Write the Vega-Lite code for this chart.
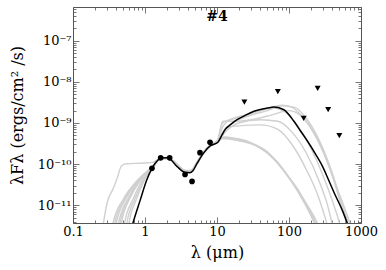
{
  "$schema": "https://vega.github.io/schema/vega-lite/v6.json",
  "width": 288,
  "height": 216,
  "autosize": {"type": "none"},
  "padding": {"left": 73, "top": 7, "right": 25, "bottom": 47},
  "background": "white",
  "view": {"stroke": null},
  "config": {
    "font": "DejaVu Serif",
    "axis": {
      "labelFont": "DejaVu Serif",
      "titleFont": "DejaVu Serif",
      "labelFontSize": 13,
      "titleFontSize": 16,
      "titleFontWeight": "normal",
      "labelColor": "#000",
      "titleColor": "#000",
      "domainColor": "#555",
      "domainWidth": 1,
      "tickColor": "#777",
      "tickWidth": 1,
      "grid": false
    }
  },
  "datasets": {
    "models": [
      {"s":"g1","l":0.24,"f":1e-12},{"s":"g1","l":0.265,"f":3.7e-12},{"s":"g1","l":0.3,"f":1.2e-11},{"s":"g1","l":0.36,"f":2.5e-11},{"s":"g1","l":0.41,"f":4.5e-11},{"s":"g1","l":0.47,"f":9e-11},{"s":"g1","l":0.55,"f":1.02e-10},{"s":"g1","l":1.0,"f":1.06e-10},{"s":"g1","l":1.3,"f":1.12e-10},{"s":"g1","l":1.6,"f":1.35e-10},{"s":"g1","l":2.0,"f":1.4e-10},{"s":"g1","l":2.5,"f":1.15e-10},{"s":"g1","l":3.0,"f":8e-11},{"s":"g1","l":3.7,"f":6.8e-11},{"s":"g1","l":4.4,"f":7e-11},{"s":"g1","l":5.3,"f":1.15e-10},{"s":"g1","l":6.5,"f":2e-10},{"s":"g1","l":8,"f":2.9e-10},{"s":"g1","l":10,"f":3.6e-10},{"s":"g1","l":12,"f":4.3e-10},{"s":"g1","l":18,"f":4.2e-10},{"s":"g1","l":30,"f":3.3e-10},{"s":"g1","l":50,"f":2e-10},{"s":"g1","l":80,"f":8e-11},{"s":"g1","l":120,"f":3e-11},{"s":"g1","l":180,"f":1e-11},{"s":"g1","l":250,"f":3.5e-12},{"s":"g1","l":280,"f":2e-12},
      {"s":"g2","l":0.33,"f":1e-12},{"s":"g2","l":0.36,"f":3.7e-12},{"s":"g2","l":0.5,"f":1.4e-11},{"s":"g2","l":0.7,"f":3.2e-11},{"s":"g2","l":0.95,"f":5.5e-11},{"s":"g2","l":1.25,"f":8.5e-11},{"s":"g2","l":1.6,"f":1.3e-10},{"s":"g2","l":2.0,"f":1.38e-10},{"s":"g2","l":2.5,"f":1.2e-10},{"s":"g2","l":3.0,"f":8.8e-11},{"s":"g2","l":3.6,"f":7e-11},{"s":"g2","l":4.3,"f":6.8e-11},{"s":"g2","l":5.3,"f":1.1e-10},{"s":"g2","l":6.5,"f":1.9e-10},{"s":"g2","l":8,"f":2.7e-10},{"s":"g2","l":10,"f":3.4e-10},{"s":"g2","l":12,"f":4.2e-10},{"s":"g2","l":20,"f":3.7e-10},{"s":"g2","l":35,"f":2.8e-10},{"s":"g2","l":60,"f":1.4e-10},{"s":"g2","l":100,"f":4.6e-11},{"s":"g2","l":160,"f":1.3e-11},{"s":"g2","l":240,"f":3.5e-12},{"s":"g2","l":270,"f":2e-12},
      {"s":"g3","l":0.37,"f":1e-12},{"s":"g3","l":0.4,"f":3.7e-12},{"s":"g3","l":0.55,"f":1.5e-11},{"s":"g3","l":0.75,"f":3.5e-11},{"s":"g3","l":1.0,"f":6e-11},{"s":"g3","l":1.25,"f":8.5e-11},{"s":"g3","l":1.6,"f":1.35e-10},{"s":"g3","l":2.0,"f":1.42e-10},{"s":"g3","l":2.5,"f":1.18e-10},{"s":"g3","l":3.0,"f":8.5e-11},{"s":"g3","l":3.6,"f":6.5e-11},{"s":"g3","l":4.3,"f":6.5e-11},{"s":"g3","l":5.3,"f":1.05e-10},{"s":"g3","l":6.5,"f":1.85e-10},{"s":"g3","l":8,"f":2.8e-10},{"s":"g3","l":10,"f":3.5e-10},{"s":"g3","l":12,"f":4.5e-10},{"s":"g3","l":20,"f":3.8e-10},{"s":"g3","l":40,"f":2.5e-10},{"s":"g3","l":70,"f":1.1e-10},{"s":"g3","l":110,"f":3.7e-11},{"s":"g3","l":170,"f":1e-11},{"s":"g3","l":240,"f":3e-12},
      {"s":"g10","l":0.4,"f":1e-12},{"s":"g10","l":0.43,"f":3.7e-12},{"s":"g10","l":0.6,"f":1.6e-11},{"s":"g10","l":0.8,"f":3.8e-11},{"s":"g10","l":1.05,"f":6.5e-11},{"s":"g10","l":1.25,"f":8.5e-11},{"s":"g10","l":1.6,"f":1.38e-10},{"s":"g10","l":2.0,"f":1.45e-10},{"s":"g10","l":2.5,"f":1.2e-10},{"s":"g10","l":3.0,"f":8.8e-11},{"s":"g10","l":3.6,"f":7e-11},{"s":"g10","l":4.3,"f":7e-11},{"s":"g10","l":5.3,"f":1.12e-10},{"s":"g10","l":6.5,"f":1.95e-10},{"s":"g10","l":8,"f":2.9e-10},{"s":"g10","l":10,"f":3.6e-10},{"s":"g10","l":13,"f":4.6e-10},{"s":"g10","l":20,"f":4e-10},{"s":"g10","l":32,"f":3e-10},{"s":"g10","l":55,"f":1.6e-10},{"s":"g10","l":90,"f":6e-11},{"s":"g10","l":150,"f":1.7e-11},{"s":"g10","l":220,"f":4e-12},{"s":"g10","l":250,"f":2e-12},
      {"s":"g4","l":0.44,"f":1e-12},{"s":"g4","l":0.47,"f":3.7e-12},{"s":"g4","l":0.62,"f":1.5e-11},{"s":"g4","l":0.85,"f":3.8e-11},{"s":"g4","l":1.05,"f":6e-11},{"s":"g4","l":1.25,"f":8e-11},{"s":"g4","l":1.6,"f":1.35e-10},{"s":"g4","l":2.0,"f":1.4e-10},{"s":"g4","l":2.5,"f":1.15e-10},{"s":"g4","l":3.0,"f":8.2e-11},{"s":"g4","l":3.6,"f":6.4e-11},{"s":"g4","l":4.3,"f":6.4e-11},{"s":"g4","l":5.3,"f":1.05e-10},{"s":"g4","l":6.5,"f":1.85e-10},{"s":"g4","l":8,"f":2.7e-10},{"s":"g4","l":10,"f":3.4e-10},{"s":"g4","l":12,"f":6e-10},{"s":"g4","l":14,"f":8e-10},{"s":"g4","l":20,"f":8.5e-10},{"s":"g4","l":40,"f":9e-10},{"s":"g4","l":70,"f":7e-10},{"s":"g4","l":110,"f":3e-10},{"s":"g4","l":170,"f":8e-11},{"s":"g4","l":250,"f":1.8e-11},{"s":"g4","l":330,"f":4e-12},{"s":"g4","l":370,"f":2e-12},
      {"s":"g5","l":0.49,"f":1e-12},{"s":"g5","l":0.52,"f":3.7e-12},{"s":"g5","l":0.68,"f":1.4e-11},{"s":"g5","l":0.9,"f":3.8e-11},{"s":"g5","l":1.1,"f":6.2e-11},{"s":"g5","l":1.25,"f":7.8e-11},{"s":"g5","l":1.6,"f":1.33e-10},{"s":"g5","l":2.0,"f":1.38e-10},{"s":"g5","l":2.5,"f":1.12e-10},{"s":"g5","l":3.0,"f":8e-11},{"s":"g5","l":3.6,"f":6.2e-11},{"s":"g5","l":4.3,"f":6.3e-11},{"s":"g5","l":5.3,"f":1.0e-10},{"s":"g5","l":6.5,"f":1.8e-10},{"s":"g5","l":8,"f":2.7e-10},{"s":"g5","l":10,"f":3.6e-10},{"s":"g5","l":12,"f":8e-10},{"s":"g5","l":14,"f":1.1e-9},{"s":"g5","l":18,"f":1.3e-9},{"s":"g5","l":30,"f":1.7e-9},{"s":"g5","l":50,"f":2.2e-9},{"s":"g5","l":80,"f":2.7e-9},{"s":"g5","l":110,"f":2.4e-9},{"s":"g5","l":160,"f":1.3e-9},{"s":"g5","l":230,"f":5e-10},{"s":"g5","l":330,"f":1.3e-10},{"s":"g5","l":450,"f":3e-11},{"s":"g5","l":600,"f":8e-12},{"s":"g5","l":720,"f":3e-12},{"s":"g5","l":780,"f":1.5e-12},
      {"s":"g6","l":0.53,"f":1e-12},{"s":"g6","l":0.56,"f":3.7e-12},{"s":"g6","l":0.72,"f":1.4e-11},{"s":"g6","l":0.92,"f":3.6e-11},{"s":"g6","l":1.1,"f":6e-11},{"s":"g6","l":1.25,"f":7.6e-11},{"s":"g6","l":1.6,"f":1.3e-10},{"s":"g6","l":2.0,"f":1.35e-10},{"s":"g6","l":2.5,"f":1.12e-10},{"s":"g6","l":3.0,"f":8.3e-11},{"s":"g6","l":3.6,"f":6.8e-11},{"s":"g6","l":4.3,"f":6.9e-11},{"s":"g6","l":5.3,"f":1.1e-10},{"s":"g6","l":6.5,"f":1.9e-10},{"s":"g6","l":8,"f":2.8e-10},{"s":"g6","l":10,"f":3.5e-10},{"s":"g6","l":12,"f":1.0e-9},{"s":"g6","l":15,"f":1.2e-9},{"s":"g6","l":25,"f":1.6e-9},{"s":"g6","l":40,"f":2.1e-9},{"s":"g6","l":60,"f":2.3e-9},{"s":"g6","l":90,"f":1.8e-9},{"s":"g6","l":130,"f":9e-10},{"s":"g6","l":200,"f":2.5e-10},{"s":"g6","l":300,"f":5e-11},{"s":"g6","l":420,"f":1e-11},{"s":"g6","l":500,"f":3.7e-12},{"s":"g6","l":540,"f":2e-12},
      {"s":"g7","l":0.57,"f":1e-12},{"s":"g7","l":0.6,"f":3.7e-12},{"s":"g7","l":0.76,"f":1.4e-11},{"s":"g7","l":0.95,"f":3.6e-11},{"s":"g7","l":1.1,"f":5.8e-11},{"s":"g7","l":1.25,"f":7.5e-11},{"s":"g7","l":1.6,"f":1.3e-10},{"s":"g7","l":2.0,"f":1.36e-10},{"s":"g7","l":2.5,"f":1.15e-10},{"s":"g7","l":3.0,"f":8.6e-11},{"s":"g7","l":3.6,"f":6.7e-11},{"s":"g7","l":4.3,"f":6.6e-11},{"s":"g7","l":5.3,"f":1.08e-10},{"s":"g7","l":6.5,"f":1.88e-10},{"s":"g7","l":8,"f":2.75e-10},{"s":"g7","l":10,"f":3.3e-10},{"s":"g7","l":13,"f":6e-10},{"s":"g7","l":20,"f":1e-9},{"s":"g7","l":40,"f":1.2e-9},{"s":"g7","l":70,"f":1.1e-9},{"s":"g7","l":110,"f":6e-10},{"s":"g7","l":170,"f":2e-10},{"s":"g7","l":260,"f":4e-11},{"s":"g7","l":380,"f":5e-12},{"s":"g7","l":420,"f":2e-12},
      {"s":"g8","l":0.35,"f":1e-12},{"s":"g8","l":0.38,"f":3.7e-12},{"s":"g8","l":0.52,"f":1.4e-11},{"s":"g8","l":0.72,"f":3.4e-11},{"s":"g8","l":0.98,"f":5.8e-11},{"s":"g8","l":1.25,"f":8.2e-11},{"s":"g8","l":1.6,"f":1.36e-10},{"s":"g8","l":2.0,"f":1.42e-10},{"s":"g8","l":2.5,"f":1.18e-10},{"s":"g8","l":3.0,"f":8.4e-11},{"s":"g8","l":3.6,"f":6.5e-11},{"s":"g8","l":4.3,"f":6.7e-11},{"s":"g8","l":5.3,"f":1.1e-10},{"s":"g8","l":6.5,"f":1.9e-10},{"s":"g8","l":8,"f":2.8e-10},{"s":"g8","l":10,"f":3.4e-10},{"s":"g8","l":12,"f":1.1e-9},{"s":"g8","l":16,"f":1.1e-9},{"s":"g8","l":30,"f":1.2e-9},{"s":"g8","l":60,"f":1.6e-9},{"s":"g8","l":100,"f":2e-9},{"s":"g8","l":140,"f":1.6e-9},{"s":"g8","l":200,"f":8e-10},{"s":"g8","l":300,"f":2e-10},{"s":"g8","l":420,"f":4e-11},{"s":"g8","l":560,"f":7e-12},{"s":"g8","l":650,"f":3e-12},{"s":"g8","l":700,"f":1.5e-12},
      {"s":"g9","l":0.42,"f":1e-12},{"s":"g9","l":0.45,"f":3.7e-12},{"s":"g9","l":0.6,"f":1.5e-11},{"s":"g9","l":0.8,"f":3.6e-11},{"s":"g9","l":1.02,"f":6e-11},{"s":"g9","l":1.25,"f":8e-11},{"s":"g9","l":1.6,"f":1.34e-10},{"s":"g9","l":2.0,"f":1.4e-10},{"s":"g9","l":2.5,"f":1.16e-10},{"s":"g9","l":3.0,"f":8.3e-11},{"s":"g9","l":3.6,"f":6.6e-11},{"s":"g9","l":4.3,"f":6.6e-11},{"s":"g9","l":5.3,"f":1.07e-10},{"s":"g9","l":6.5,"f":1.9e-10},{"s":"g9","l":8,"f":2.8e-10},{"s":"g9","l":10,"f":3.6e-10},{"s":"g9","l":14,"f":8e-10},{"s":"g9","l":25,"f":1.4e-9},{"s":"g9","l":50,"f":2e-9},{"s":"g9","l":80,"f":2.6e-9},{"s":"g9","l":120,"f":2.4e-9},{"s":"g9","l":180,"f":1.2e-9},{"s":"g9","l":280,"f":3e-10},{"s":"g9","l":400,"f":6e-11},{"s":"g9","l":550,"f":1e-11},{"s":"g9","l":680,"f":3e-12},{"s":"g9","l":730,"f":1.5e-12}
    ],
    "best": [
      {"l":0.55,"f":1e-12},{"l":0.68,"f":3.7e-12},{"l":0.86,"f":1.35e-11},{"l":1.05,"f":4e-11},{"l":1.25,"f":7.9e-11},{"l":1.45,"f":1.15e-10},{"l":1.67,"f":1.4e-10},{"l":2.0,"f":1.42e-10},{"l":2.25,"f":1.3e-10},{"l":2.8,"f":8.7e-11},{"l":3.6,"f":6.3e-11},{"l":4.2,"f":6.2e-11},{"l":4.6,"f":6.8e-11},{"l":5.3,"f":1.05e-10},{"l":6.5,"f":1.85e-10},{"l":8.1,"f":2.8e-10},{"l":10.3,"f":3.4e-10},{"l":11.5,"f":4.8e-10},{"l":13,"f":7e-10},{"l":15.4,"f":9.1e-10},{"l":19,"f":1.2e-9},{"l":25,"f":1.55e-9},{"l":32,"f":1.9e-9},{"l":50,"f":2.3e-9},{"l":62,"f":2.45e-9},{"l":85,"f":2.1e-9},{"l":117,"f":1.1e-9},{"l":146,"f":6.2e-10},{"l":181,"f":3.6e-10},{"l":236,"f":1.7e-10},{"l":292,"f":8.8e-11},{"l":351,"f":4.3e-11},{"l":430,"f":1.9e-11},{"l":560,"f":7e-12},{"l":650,"f":3.5e-12},{"l":720,"f":2e-12}
    ],
    "phot": [
      {"l":1.25,"f":7.9e-11},{"l":1.65,"f":1.42e-10},{"l":2.2,"f":1.42e-10},{"l":3.6,"f":5.6e-11},{"l":4.5,"f":3.8e-11},{"l":5.8,"f":1.9e-10},{"l":8.0,"f":3.4e-10}
    ],
    "limits": [
      {"l":24,"f":3.2e-9},{"l":70,"f":5.8e-9},{"l":160,"f":1.3e-9},{"l":250,"f":6.9e-9},{"l":350,"f":2.1e-9},{"l":500,"f":4.9e-10}
    ],
    "label": [{"l":10,"f":3.8e-7,"t":"#4"}]
  },
  "resolve": {"axis": {"x": "independent", "y": "independent"}},
  "layer": [
    {
      "data": {"name": "models"},
      "mark": {"type": "line", "clip": true, "color": "#d0d0d0", "strokeWidth": 1.4, "interpolate": "monotone"},
      "encoding": {
        "detail": {"field": "s", "type": "nominal"},
        "x": {"field": "l", "type": "quantitative",
          "scale": {"type": "log", "domain": [0.1, 1000]},
          "axis": {"orient": "bottom", "title": "λ (μm)",
            "values": [0.1,0.2,0.3,0.4,0.5,0.6,0.7,0.8,0.9,1,2,3,4,5,6,7,8,9,10,20,30,40,50,60,70,80,90,100,200,300,400,500,600,700,800,900,1000],
            "labelExpr": "abs(log(datum.value)/LN10 - round(log(datum.value)/LN10)) < 0.001 ? '' + datum.value : ''",
            "tickSize": {"condition": {"test": "abs(log(datum.value)/LN10 - round(log(datum.value)/LN10)) < 0.001", "value": -6}, "value": -3},
            "labelPadding": 8, "labelFlush": false, "labelOverlap": false,
            "titleY": 29, "titleBaseline": "middle"}},
        "y": {"field": "f", "type": "quantitative",
          "scale": {"type": "log", "domain": [3.7e-12, 6.6e-7]},
          "axis": {"orient": "left", "title": "λFλ (ergs/cm² /s)",
            "values": [4e-12,5e-12,6e-12,7e-12,8e-12,9e-12,1e-11,2e-11,3e-11,4e-11,5e-11,6e-11,7e-11,8e-11,9e-11,1e-10,2e-10,3e-10,4e-10,5e-10,6e-10,7e-10,8e-10,9e-10,1e-9,2e-9,3e-9,4e-9,5e-9,6e-9,7e-9,8e-9,9e-9,1e-8,2e-8,3e-8,4e-8,5e-8,6e-8,7e-8,8e-8,9e-8,1e-7,2e-7,3e-7,4e-7,5e-7,6e-7],
            "labelExpr": "abs(log(datum.value)/LN10 - round(log(datum.value)/LN10)) > 0.001 ? '' : datum.value < 2e-11 ? '10⁻¹¹' : datum.value < 2e-10 ? '10⁻¹⁰' : datum.value < 2e-9 ? '10⁻⁹' : datum.value < 2e-8 ? '10⁻⁸' : '10⁻⁷'",
            "tickSize": {"condition": {"test": "abs(log(datum.value)/LN10 - round(log(datum.value)/LN10)) < 0.001", "value": -6}, "value": -3},
            "labelPadding": 8, "labelFlush": false, "labelOverlap": false,
            "titleX": -56, "titleY": 108, "titleAngle": -90, "titleAlign": "center", "titleBaseline": "middle"}}
      }
    },
    {
      "data": {"name": "best"},
      "mark": {"type": "line", "clip": true, "color": "#000", "strokeWidth": 1.5, "interpolate": "monotone"},
      "encoding": {
        "x": {"field": "l", "type": "quantitative",
          "scale": {"type": "log", "domain": [0.1, 1000]},
          "axis": {"orient": "top", "title": null, "labels": false,
            "values": [0.1,0.2,0.3,0.4,0.5,0.6,0.7,0.8,0.9,1,2,3,4,5,6,7,8,9,10,20,30,40,50,60,70,80,90,100,200,300,400,500,600,700,800,900,1000],
            "tickSize": {"condition": {"test": "abs(log(datum.value)/LN10 - round(log(datum.value)/LN10)) < 0.001", "value": -6}, "value": -3}}},
        "y": {"field": "f", "type": "quantitative",
          "scale": {"type": "log", "domain": [3.7e-12, 6.6e-7]},
          "axis": {"orient": "right", "title": null, "labels": false,
            "values": [4e-12,5e-12,6e-12,7e-12,8e-12,9e-12,1e-11,2e-11,3e-11,4e-11,5e-11,6e-11,7e-11,8e-11,9e-11,1e-10,2e-10,3e-10,4e-10,5e-10,6e-10,7e-10,8e-10,9e-10,1e-9,2e-9,3e-9,4e-9,5e-9,6e-9,7e-9,8e-9,9e-9,1e-8,2e-8,3e-8,4e-8,5e-8,6e-8,7e-8,8e-8,9e-8,1e-7,2e-7,3e-7,4e-7,5e-7,6e-7],
            "tickSize": {"condition": {"test": "abs(log(datum.value)/LN10 - round(log(datum.value)/LN10)) < 0.001", "value": -6}, "value": -3}}}
      }
    },
    {
      "data": {"name": "phot"},
      "mark": {"type": "point", "shape": "circle", "filled": true, "color": "#000", "size": 32, "opacity": 1},
      "encoding": {
        "x": {"field": "l", "type": "quantitative", "scale": {"type": "log", "domain": [0.1, 1000]}, "axis": null},
        "y": {"field": "f", "type": "quantitative", "scale": {"type": "log", "domain": [3.7e-12, 6.6e-7]}, "axis": null}
      }
    },
    {
      "data": {"name": "limits"},
      "mark": {"type": "point", "shape": "triangle-down", "filled": true, "color": "#000", "size": 36, "opacity": 1},
      "encoding": {
        "x": {"field": "l", "type": "quantitative", "scale": {"type": "log", "domain": [0.1, 1000]}, "axis": null},
        "y": {"field": "f", "type": "quantitative", "scale": {"type": "log", "domain": [3.7e-12, 6.6e-7]}, "axis": null}
      }
    },
    {
      "data": {"name": "label"},
      "mark": {"type": "text", "font": "DejaVu Serif", "fontSize": 14, "fontWeight": "bold", "color": "#000", "baseline": "middle", "align": "center"},
      "encoding": {
        "x": {"field": "l", "type": "quantitative", "scale": {"type": "log", "domain": [0.1, 1000]}, "axis": null},
        "y": {"field": "f", "type": "quantitative", "scale": {"type": "log", "domain": [3.7e-12, 6.6e-7]}, "axis": null},
        "text": {"field": "t", "type": "nominal"}
      }
    }
  ]
}
